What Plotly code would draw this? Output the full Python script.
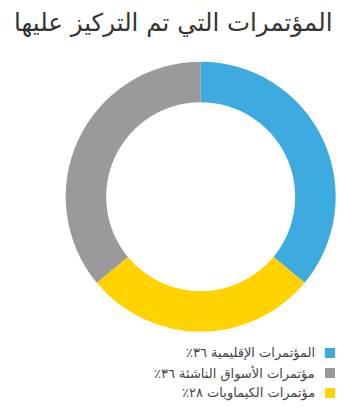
import plotly.graph_objects as go

title = "المؤتمرات التي تم التركيز عليها"
labels = ["المؤتمرات الإقليمية ٣٦٪", "مؤتمرات الكيماويات ٢٨٪", "مؤتمرات الأسواق الناشئة ٣٦٪"]
values = [36, 28, 36]
colors = ["#3DAAE0", "#FFD200", "#9B999C"]
legend_order = [0, 2, 1]

W, H = 344, 413
RLM = "\u200f"

fig = go.Figure()
fig.add_trace(go.Pie(
    labels=labels, values=values, sort=False, direction="clockwise", rotation=0,
    hole=0.70, marker=dict(colors=colors, line=dict(width=0)),
    textinfo="none", hoverinfo="label", showlegend=False,
    domain=dict(x=[65.7 / W, 335.7 / W], y=[1 - 331.7 / H, 1 - 61.7 / H]),
))

row_y = [353, 373, 393]
for k, i in enumerate(legend_order):
    y = 1 - row_y[k] / H
    fig.add_annotation(x=317 / W, y=y, xref="paper", yref="paper", text=RLM + labels[i] + RLM,
                       showarrow=False, xanchor="right", yanchor="middle",
                       font=dict(size=13, color="#444444", family="DejaVu Sans"))
    fig.add_shape(type="rect", xref="paper", yref="paper",
                  x0=325 / W, x1=335 / W, y0=y - 5 / H, y1=y + 5 / H,
                  fillcolor=colors[i], line=dict(width=0))

fig.add_annotation(x=334 / W, y=1 - 22 / H, xref="paper", yref="paper", text=title,
                   showarrow=False, xanchor="right", yanchor="middle",
                   font=dict(size=24.5, color="#333333", family="DejaVu Sans"))

fig.update_layout(width=W, height=H, margin=dict(l=0, r=0, t=0, b=0),
                  paper_bgcolor="white", plot_bgcolor="white")
fig.write_html("out.html")
